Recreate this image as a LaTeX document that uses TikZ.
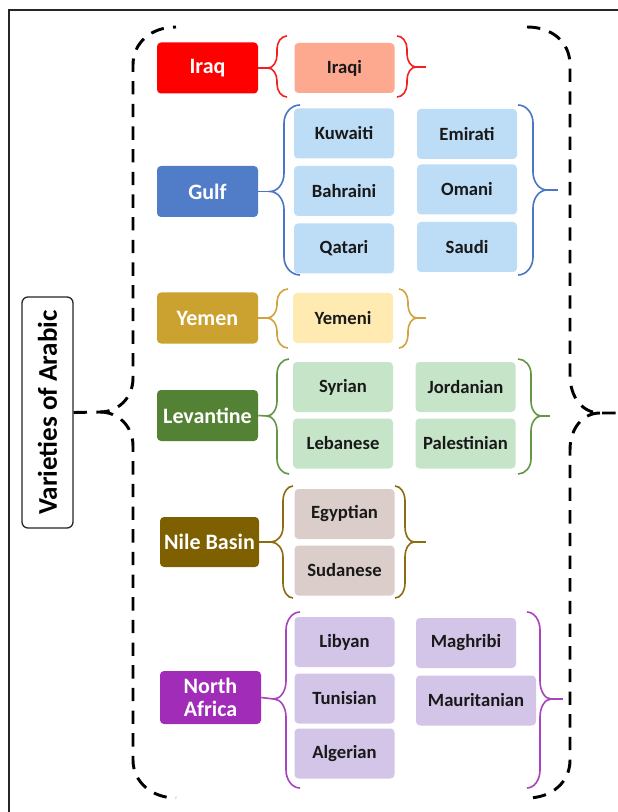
\documentclass[tikz,border=0pt]{standalone}
\usepackage{fontspec}
\setmainfont{Carlito}
\newcommand\BrC[8]{% #1 colour, #2 x end, #3 x vertical, #4 x tip, #5 y top, #6 y mid, #7 y bottom, #8 radius
  \draw[brline,#1] (#2,#5) .. controls ({#3+(#2-#3)*0.45},#5) and (#3,{#5+#8*0.45}) .. (#3,#5+#8)
    -- (#3,#6-#8)
    .. controls (#3,{#6-#8*0.45}) and ({#3+(#4-#3)*0.45},#6) .. (#4,#6)
    .. controls ({#3+(#4-#3)*0.45},#6) and (#3,{#6+#8*0.45}) .. (#3,#6+#8)
    -- (#3,#7-#8)
    .. controls (#3,{#7-#8*0.45}) and ({#3+(#2-#3)*0.45},#7) .. (#2,#7);}
\definecolor{cIraq}{HTML}{FF0000}\definecolor{lIraq}{HTML}{FCA98F}\definecolor{bIraq}{HTML}{F42020}
\definecolor{cGulf}{HTML}{517DC8}\definecolor{lGulf}{HTML}{BDDCF6}\definecolor{bGulf}{HTML}{4A76C4}
\definecolor{cYem}{HTML}{CBA22F}\definecolor{lYem}{HTML}{FFEAB2}\definecolor{bYem}{HTML}{CFA43A}
\definecolor{cLev}{HTML}{548235}\definecolor{lLev}{HTML}{C6E5C8}\definecolor{bLev}{HTML}{659645}
\definecolor{cNile}{HTML}{7F6000}\definecolor{lNile}{HTML}{DACDCA}\definecolor{bNile}{HTML}{8B6C10}
\definecolor{cNA}{HTML}{A02CB8}\definecolor{lNA}{HTML}{D2C5E8}\definecolor{bNA}{HTML}{A844C0}
\begin{document}
\begin{tikzpicture}[x=0.75pt,y=-0.75pt,
  cat/.style={rounded corners=3pt, minimum width=75.75pt, minimum height=38.25pt, inner sep=0pt,
    text=white, font=\fontsize{16.5}{17.5}\selectfont\bfseries, align=center},
  leaf/.style={rounded corners=3pt, minimum width=75pt, minimum height=37.5pt, inner sep=0pt,
    text=black!90, font=\fontsize{14}{16}\selectfont\bfseries},
  brline/.style={line width=1.2pt},
  dbrace/.style={line width=2.2pt, black, dash pattern=on 10pt off 7pt},
  title/.style={draw=black!85, line width=1pt, rounded corners=4.5pt, minimum width=38.25pt,
    minimum height=173.25pt, inner sep=0pt, font=\fontsize{20.3}{21}\selectfont\bfseries}]
\useasboundingbox (0,0) rectangle (617,812);
\fill[white] (0,0) rectangle (617,812);
\draw[line width=1pt, black!85] (9,830) -- (9,10) -- (640,10);

% title
\node[title] (lab) at (47.5,412.5) {\rotatebox{90}{Varieties of Arabic}};

% categories
\node[cat, fill=cIraq] (iraq) at (207.5,68) {Iraq};
\node[cat, fill=cGulf] (gulf) at (207.5,191.5) {Gulf};
\node[cat, fill=cYem] (yemen) at (207.5,318) {Yemen};
\node[cat, fill=cLev] (lev) at (207.5,415.5) {Levantine};
\node[cat, fill=cNile, minimum width=74.25pt, minimum height=37.5pt] (nile) at (209.5,542) {Nile Basin};
\node[cat, fill=cNA, minimum height=39.75pt] (na) at (210.5,697.5) {North\\Africa};

% leaves
\node[leaf, fill=lIraq] (iraqi) at (344.5,68) {Iraqi};
\node[leaf, fill=lGulf] (kuw) at (344,133.5) {Kuwaiti};
\node[leaf, fill=lGulf] (bah) at (344,191) {Bahraini};
\node[leaf, fill=lGulf] (qat) at (344,248.5) {Qatari};
\node[leaf, fill=lGulf] (emi) at (467,134) {Emirati};
\node[leaf, fill=lGulf] (oma) at (467,189.5) {Omani};
\node[leaf, fill=lGulf] (sau) at (467,247) {Saudi};
\node[leaf, fill=lYem] (yemeni) at (343,318) {Yemeni};
\node[leaf, fill=lLev] (syr) at (343,387) {Syrian};
\node[leaf, fill=lLev] (leb) at (343,443.5) {Lebanese};
\node[leaf, fill=lLev] (jor) at (465.5,387) {Jordanian};
\node[leaf, fill=lLev] (pal) at (465.5,443.5) {Palestinian};
\node[leaf, fill=lNile] (egy) at (344.5,514) {Egyptian};
\node[leaf, fill=lNile] (sud) at (344.5,570.5) {Sudanese};
\node[leaf, fill=lNA] (lib) at (344.5,642) {Libyan};
\node[leaf, fill=lNA] (tun) at (344.5,698.5) {Tunisian};
\node[leaf, fill=lNA] (alg) at (344.5,753.5) {Algerian};
\node[leaf, fill=lNA] (mag) at (466,643) {Maghribi};
\node[leaf, fill=lNA, minimum width=90pt] (mau) at (476,700.5) {Mauritanian};

% braces
\BrC{bIraq}{287}{277}{268}{36}{68}{97}{13}
\draw[brline,bIraq] (iraq.east) -- (268,68);
\BrC{bIraq}{397}{407}{416}{36}{67}{97}{13}
\coordinate (eIraq) at (426,67);
\draw[brline,bIraq] (416,67) -- (eIraq);

\BrC{bGulf}{300}{284}{270}{105}{191.5}{275}{18}
\draw[brline,bGulf] (gulf.east) -- (270,191.5);
\BrC{bGulf}{518}{533}{547}{105}{190}{275}{18}
\coordinate (eGulf) at (558,190);
\draw[brline,bGulf] (547,190) -- (eGulf);

\BrC{bYem}{288}{277}{267}{289}{318}{348}{13}
\draw[brline,bYem] (yemen.east) -- (267,318);
\BrC{bYem}{399}{408}{417}{289}{318}{348}{13}
\coordinate (eYem) at (426,318);
\draw[brline,bYem] (417,318) -- (eYem);

\BrC{bLev}{289}{277}{267}{359}{416}{474}{15}
\draw[brline,bLev] (lev.east) -- (267,416);
\BrC{bLev}{518}{531}{541}{359}{416}{474}{15}
\coordinate (eLev) at (550,416);
\draw[brline,bLev] (541,416) -- (eLev);

\BrC{bNile}{293}{283}{271}{486}{542}{598}{15}
\draw[brline,bNile] (nile.east) -- (271,542);
\BrC{bNile}{395}{405}{414}{486}{542}{598}{15}
\coordinate (eNile) at (426,542);
\draw[brline,bNile] (414,542) -- (eNile);

\BrC{bNA}{300}{286}{274}{612}{699}{788}{18}
\draw[brline,bNA] (na.east) -- (274,699);
\BrC{bNA}{527}{540}{551}{612}{699}{788}{18}
\coordinate (eNA) at (563,699);
\draw[brline,bNA] (551,699) -- (eNA);

% big dashed braces
\coordinate (tipL) at (100,412);
\draw[dbrace] (lab.east) -- (tipL) .. controls (118,412) and (133,398) .. (133,378)
  -- (133,65) .. controls (133,42) and (152,27) .. (176,27);
\draw[dbrace] (tipL) .. controls (118,412) and (133,426) .. (133,446)
  -- (133,760) .. controls (133,782) and (152,798) .. (176,798);
\coordinate (tipR) at (600,413);
\coordinate (outR) at (625,413);
\draw[dbrace] (527,27) .. controls (552,27) and (570,42) .. (570,65) -- (570,375)
  .. controls (570,398) and (583,413) .. (tipR) -- (outR);
\draw[dbrace] (tipR) .. controls (583,413) and (570,428) .. (570,450) -- (570,760)
  .. controls (570,782) and (552,798) .. (527,798);
\end{tikzpicture}
\end{document}
